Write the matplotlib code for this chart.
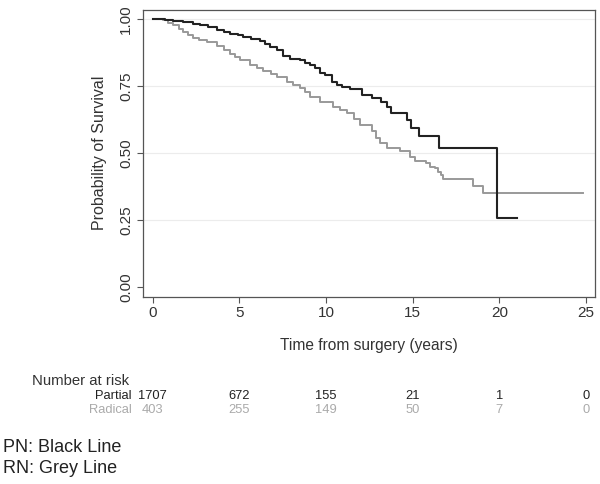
import numpy as np
import matplotlib
matplotlib.use("Agg")
import matplotlib.pyplot as plt
import matplotlib.transforms as mtransforms

plt.rcParams['font.family'] = ['Liberation Sans', 'DejaVu Sans']

# Partial nephrectomy (black)
t_partial = [0, 0.7, 1.2, 1.77, 2.3, 2.73, 3.2, 3.69, 4.1, 4.46, 4.9, 5.23, 5.7,
             6.19, 6.5, 6.77, 7.15, 7.54, 7.92, 8.5, 8.8, 9.08, 9.37, 9.65, 9.94,
             10.33, 10.62, 10.9, 11.38, 12.06, 12.63, 13.2, 13.5, 13.73, 14.65,
             14.9, 15.38, 16.5, 19.87, 21.04]
s_partial = [1.0, 0.997, 0.993, 0.988, 0.981, 0.975, 0.968, 0.960, 0.950, 0.944,
             0.938, 0.932, 0.925, 0.916, 0.905, 0.894, 0.882, 0.863, 0.851, 0.845,
             0.836, 0.827, 0.815, 0.796, 0.790, 0.765, 0.753, 0.744, 0.737, 0.716,
             0.703, 0.688, 0.672, 0.647, 0.622, 0.592, 0.562, 0.518, 0.257, 0.257]

# Radical nephrectomy (grey)
t_radical = [0, 0.61, 0.9, 1.19, 1.5, 1.77, 2.05, 2.34, 2.7, 3.12, 3.69, 4.1, 4.46,
             4.75, 5.04, 5.61, 6.0, 6.38, 6.8, 7.15, 7.73, 8.11, 8.5, 8.8, 9.08,
             9.65, 10.42, 10.8, 11.19, 11.6, 11.96, 12.63, 12.9, 13.12, 13.5, 14.27,
             14.85, 15.13, 15.8, 16.0, 16.29, 16.48, 16.62, 16.73, 18.46, 19.08, 24.85]
s_radical = [1.0, 0.994, 0.985, 0.975, 0.962, 0.950, 0.940, 0.928, 0.920, 0.913,
             0.900, 0.885, 0.869, 0.857, 0.845, 0.826, 0.817, 0.807, 0.794, 0.782,
             0.764, 0.753, 0.741, 0.725, 0.709, 0.690, 0.672, 0.660, 0.647, 0.625,
             0.603, 0.580, 0.555, 0.535, 0.517, 0.505, 0.486, 0.468, 0.463, 0.448,
             0.442, 0.429, 0.417, 0.402, 0.377, 0.350, 0.350]

# Number at risk
risk_times = [0, 5, 10, 15, 20, 25]
risk_partial = [1707, 672, 155, 21, 1, 0]
risk_radical = [403, 255, 149, 50, 7, 0]

black = "#222222"
grey = "#999999"
spine = "#555555"

fig = plt.figure(figsize=(6, 4.84), dpi=100)
ax = fig.add_axes([0.2383, 0.387, 0.7527, 0.593])

for y in [0.25, 0.5, 0.75, 1.0]:
    ax.axhline(y, color="#ececec", lw=0.8, zorder=0)

ax.step(t_radical, s_radical, where="post", color=grey, lw=1.4)
ax.step(t_partial, s_partial, where="post", color=black, lw=1.5)

ax.set_xlim(-0.56, 25.5)
ax.set_ylim(-0.037, 1.034)
ax.set_xticks(risk_times)
ax.set_yticks([0, 0.25, 0.5, 0.75, 1.0])
ax.set_yticklabels(["0.00", "0.25", "0.50", "0.75", "1.00"], rotation=90, va="center")
ax.tick_params(axis="both", direction="out", length=4, width=0.8, color=spine,
               labelsize=11, labelcolor="#333333", pad=3)
for sp in ax.spines.values():
    sp.set_color(spine)
    sp.set_linewidth(0.9)

ax.set_ylabel("Probability of Survival", fontsize=11.5, color="#333333", labelpad=9)
fig.text(0.615, 0.287, "Time from surgery (years)", ha="center", va="center",
         fontsize=11.2, color="#333333")

# risk table
trans = mtransforms.blended_transform_factory(ax.transData, fig.transFigure)
fig.text(0.053, 0.2128, "Number at risk", ha="left", va="center", fontsize=10.7,
         color="#333333")
fig.text(0.22, 0.1818, "Partial", ha="right", va="center", fontsize=9.3, color=black)
fig.text(0.22, 0.1529, "Radical", ha="right", va="center", fontsize=9.3, color="#aaaaaa")
for t, n1, n2 in zip(risk_times, risk_partial, risk_radical):
    ax.text(t, 0.1818, str(n1), transform=trans, ha="center", va="center",
            fontsize=9.3, color=black)
    ax.text(t, 0.1529, str(n2), transform=trans, ha="center", va="center",
            fontsize=9.3, color="#aaaaaa")

fig.text(0.005, 0.0744, "PN: Black Line", ha="left", va="center", fontsize=13,
         color="#222222")
fig.text(0.005, 0.031, "RN: Grey Line", ha="left", va="center", fontsize=13,
         color="#222222")

fig.savefig("out.png", dpi=100)
